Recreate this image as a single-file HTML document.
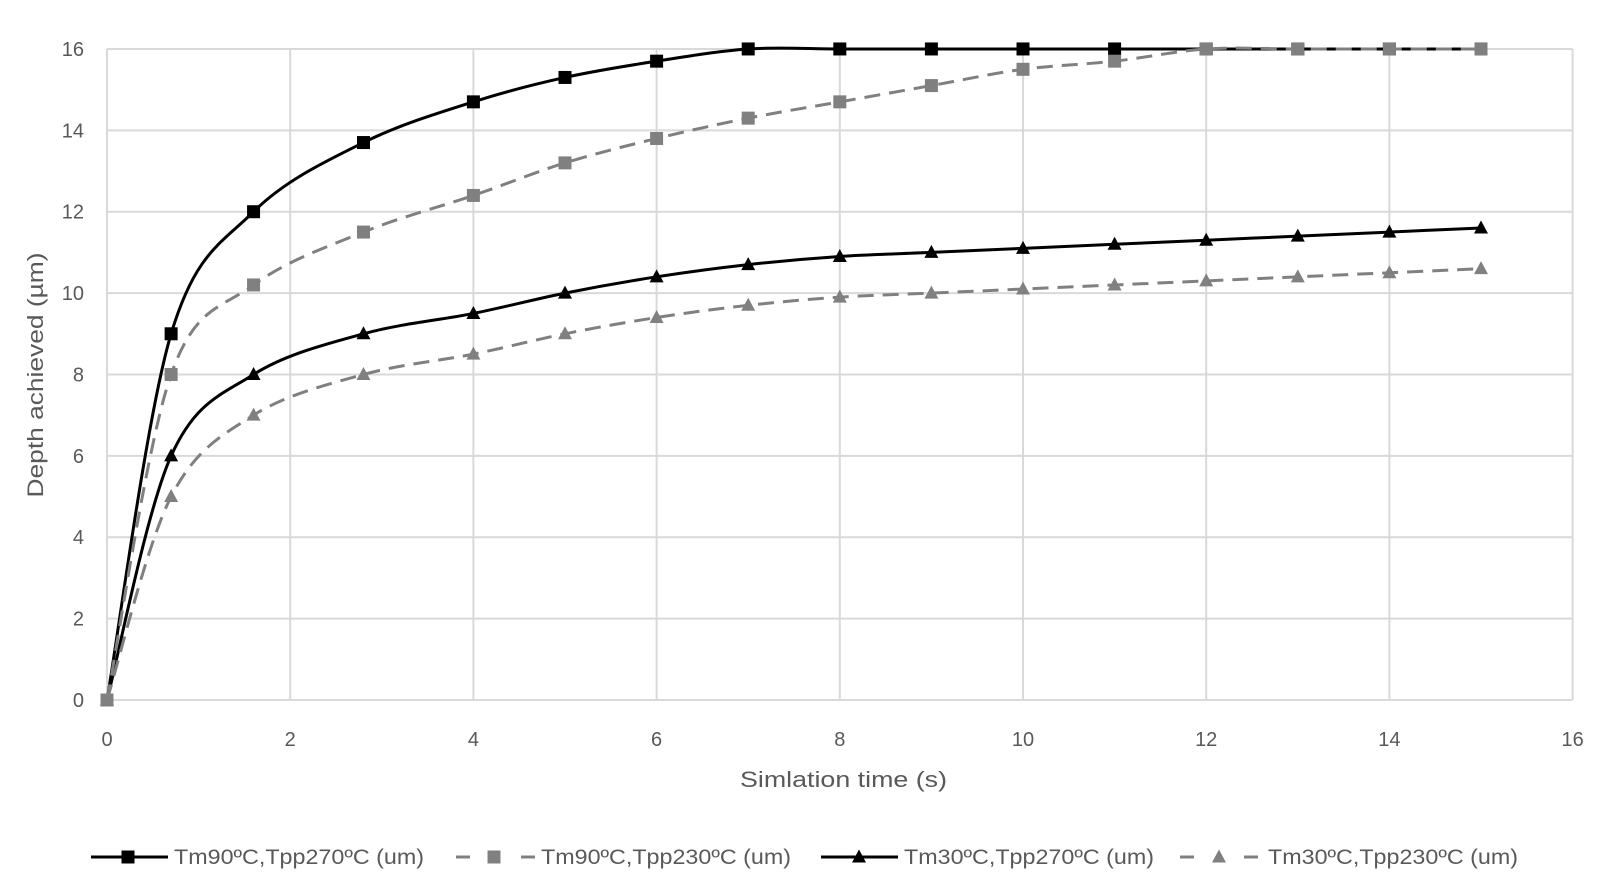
<!DOCTYPE html>
<html><head><meta charset="utf-8"><style>
html,body{margin:0;padding:0;background:#fff;}
svg{display:block;font-family:"Liberation Sans",sans-serif;}
</style></head><body>
<svg id="c" width="1614" height="882" xmlns="http://www.w3.org/2000/svg"></svg>
<script>
const svg=document.getElementById('c');
const X0=107,XU=91.6,Y0=700,YU=40.69;
const px=x=>X0+x*XU, py=y=>Y0-y*YU;
let h='';
for(let i=0;i<=16;i+=2){
  h+=`<line x1="${px(i)}" y1="${py(0)}" x2="${px(i)}" y2="${py(16)}" stroke="#d9d9d9" stroke-width="2"/>`;
  h+=`<line x1="${px(0)}" y1="${py(i)}" x2="${px(16)}" y2="${py(i)}" stroke="#d9d9d9" stroke-width="2"/>`;
  h+=`<text x="84" y="${py(i)+7}" text-anchor="end" font-size="20" fill="#595959">${i}</text>`;
  h+=`<text x="${px(i)}" y="746" text-anchor="middle" font-size="20" fill="#595959">${i}</text>`;
}
h+=`<text x="740" y="787" font-size="22" fill="#595959" textLength="207" lengthAdjust="spacingAndGlyphs">Simlation time (s)</text>`;
h+=`<text transform="translate(43,375) rotate(-90)" text-anchor="middle" font-size="22" fill="#595959" textLength="245" lengthAdjust="spacingAndGlyphs">Depth achieved (µm)</text>`;
const xs=[0,0.7,1.6,2.8,4,5,6,7,8,9,10,11,12,13,14,15];
const S=[
 {y:[0,9,12,13.7,14.7,15.3,15.7,16,16,16,16,16,16,16,16,16],c:'#000',d:'',m:'s'},
 {y:[0,8,10.2,11.5,12.4,13.2,13.8,14.3,14.7,15.1,15.5,15.7,16,16,16,16],c:'#808080',d:'16 9',m:'s'},
 {y:[0,6,8,9,9.5,10,10.4,10.7,10.9,11,11.1,11.2,11.3,11.4,11.5,11.6],c:'#000',d:'',m:'t'},
 {y:[0,5,7,8,8.5,9,9.4,9.7,9.9,10,10.1,10.2,10.3,10.4,10.5,10.6],c:'#808080',d:'16 9',m:'t'}];
function path(pts){
  let d=`M${pts[0][0]},${pts[0][1]}`;
  for(let i=0;i<pts.length-1;i++){
    const p0=pts[i-1]||pts[i],p1=pts[i],p2=pts[i+1],p3=pts[i+2]||p2,t=6;
    d+=` C${p1[0]+(p2[0]-p0[0])/t},${p1[1]+(p2[1]-p0[1])/t} ${p2[0]-(p3[0]-p1[0])/t},${p2[1]-(p3[1]-p1[1])/t} ${p2[0]},${p2[1]}`;
  }
  return d;
}
function mark(m,x,y,c){
  if(m==='s')return `<rect x="${x-6.5}" y="${y-6.5}" width="13" height="13" fill="${c}"/>`;
  return `<polygon points="${x},${y-7.5} ${x+7},${y+5.5} ${x-7},${y+5.5}" fill="${c}"/>`;
}
[0,2,1,3].forEach(k=>{
  const s=S[k];const pts=xs.map((x,i)=>[px(x),py(s.y[i])]);
  h+=`<path d="${path(pts)}" fill="none" stroke="${s.c}" stroke-width="3" ${s.d?`stroke-dasharray="${s.d}"`:''}/>`;
  pts.forEach(p=>h+=mark(s.m,p[0],p[1],s.c));
});
const ly=857, tl=250;
const lt=(x,s)=>`<text x="${x}" y="${ly+7}" font-size="21" fill="#595959" textLength="${tl}" lengthAdjust="spacingAndGlyphs">${s}</text>`;
h+=`<line x1="91" y1="${ly}" x2="168" y2="${ly}" stroke="#000" stroke-width="3"/>`+mark('s',128,ly,'#000');
h+=lt(174,'Tm90ºC,Tpp270ºC (um)');
h+=`<line x1="456" y1="${ly}" x2="470" y2="${ly}" stroke="#808080" stroke-width="3"/><line x1="521" y1="${ly}" x2="535" y2="${ly}" stroke="#808080" stroke-width="3"/>`+mark('s',494,ly,'#808080');
h+=lt(541,'Tm90ºC,Tpp230ºC (um)');
h+=`<line x1="821" y1="${ly}" x2="898" y2="${ly}" stroke="#000" stroke-width="3"/>`+mark('t',859,ly,'#000');
h+=lt(904,'Tm30ºC,Tpp270ºC (um)');
h+=`<line x1="1180" y1="${ly}" x2="1194" y2="${ly}" stroke="#808080" stroke-width="3"/><line x1="1244" y1="${ly}" x2="1258" y2="${ly}" stroke="#808080" stroke-width="3"/>`+mark('t',1219,ly,'#808080');
h+=lt(1268,'Tm30ºC,Tpp230ºC (um)');
svg.innerHTML=h;
</script>
</body></html>
